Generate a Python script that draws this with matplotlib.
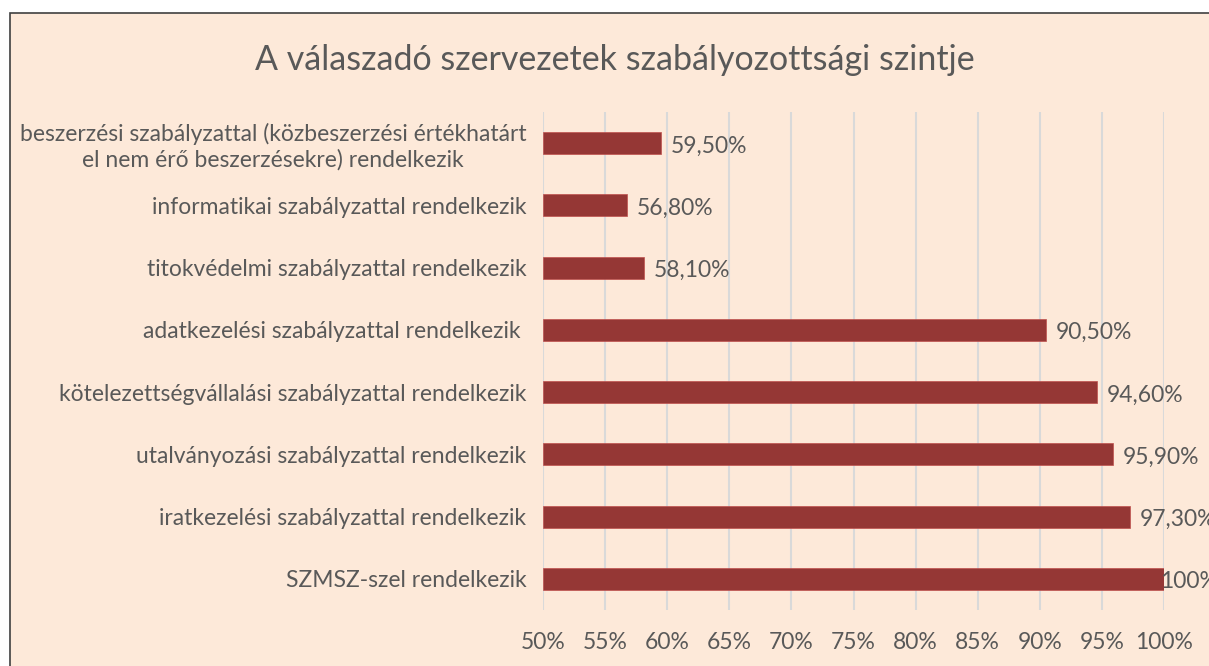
import matplotlib.pyplot as plt
from matplotlib.patches import Rectangle
from matplotlib.ticker import FuncFormatter

# categories from top to bottom
categories = [
    "beszerzési szabályzattal (közbeszerzési értékhatárt\nel nem érő beszerzésekre) rendelkezik",
    "informatikai szabályzattal rendelkezik",
    "titokvédelmi szabályzattal rendelkezik",
    "adatkezelési szabályzattal rendelkezik ",
    "kötelezettségvállalási szabályzattal rendelkezik",
    "utalványozási szabályzattal rendelkezik",
    "iratkezelési szabályzattal rendelkezik",
    "SZMSZ-szel rendelkezik",
]
values = [59.5, 56.8, 58.1, 90.5, 94.6, 95.9, 97.3, 100.0]
value_labels = ["59,50%", "56,80%", "58,10%", "90,50%", "94,60%", "95,90%", "97,30%", "100%"]
xticks = list(range(50, 101, 5))

bg = "#FDE9D9"
bar_color = "#953735"
text_color = "#595959"
plt.rcParams['font.family'] = ['Lato', 'DejaVu Sans']

fig = plt.figure(figsize=(12.09, 6.66), dpi=100, facecolor="white")
fig.patches.append(Rectangle((10 / 1209, -0.01), 1.0, (666 - 13) / 666 + 0.01,
                             transform=fig.transFigure, facecolor=bg,
                             edgecolor="#404040", linewidth=1.2, zorder=-10))

ax = fig.add_axes([543 / 1209, 1 - 610 / 666, (1164 - 543) / 1209, (610 - 112) / 666])
ax.set_facecolor("none")

y = list(range(len(categories)))
ax.barh(y, [v - 50 for v in values], left=50, height=0.35, color=bar_color,
        edgecolor="#C0504D", linewidth=0.5, zorder=3)

for yi, v, lab in zip(y, values, value_labels):
    off = 7 if v < 100 else -3
    ax.annotate(lab, (v, yi), xytext=(off, -2), textcoords="offset points",
                va="center", ha="left", fontsize=16.5, color=text_color,
                annotation_clip=False, zorder=4)

ax.set_xlim(50, 100)
ax.set_ylim(len(categories) - 0.5, -0.5)
ax.set_xticks(xticks)
ax.xaxis.set_major_formatter(FuncFormatter(lambda x, p: f"{x:.0f}%"))
ax.set_yticks(y)
ax.set_yticklabels(categories)
for t in ax.get_yticklabels():
    t.set_multialignment("center")
ax.tick_params(axis="both", length=0, labelsize=16.5, colors=text_color)
ax.tick_params(axis="x", pad=16)
ax.tick_params(axis="y", pad=12)
ax.grid(axis="x", color="#D9D9D9", linewidth=1.5, zorder=0)
for s in ax.spines.values():
    s.set_visible(False)

fig.text(615 / 1209, 1 - 60 / 666, "A válaszadó szervezetek szabályozottsági szintje",
         ha="center", va="center", fontsize=24.5, color=text_color)

fig.savefig("out.png", dpi=100, facecolor="white")
